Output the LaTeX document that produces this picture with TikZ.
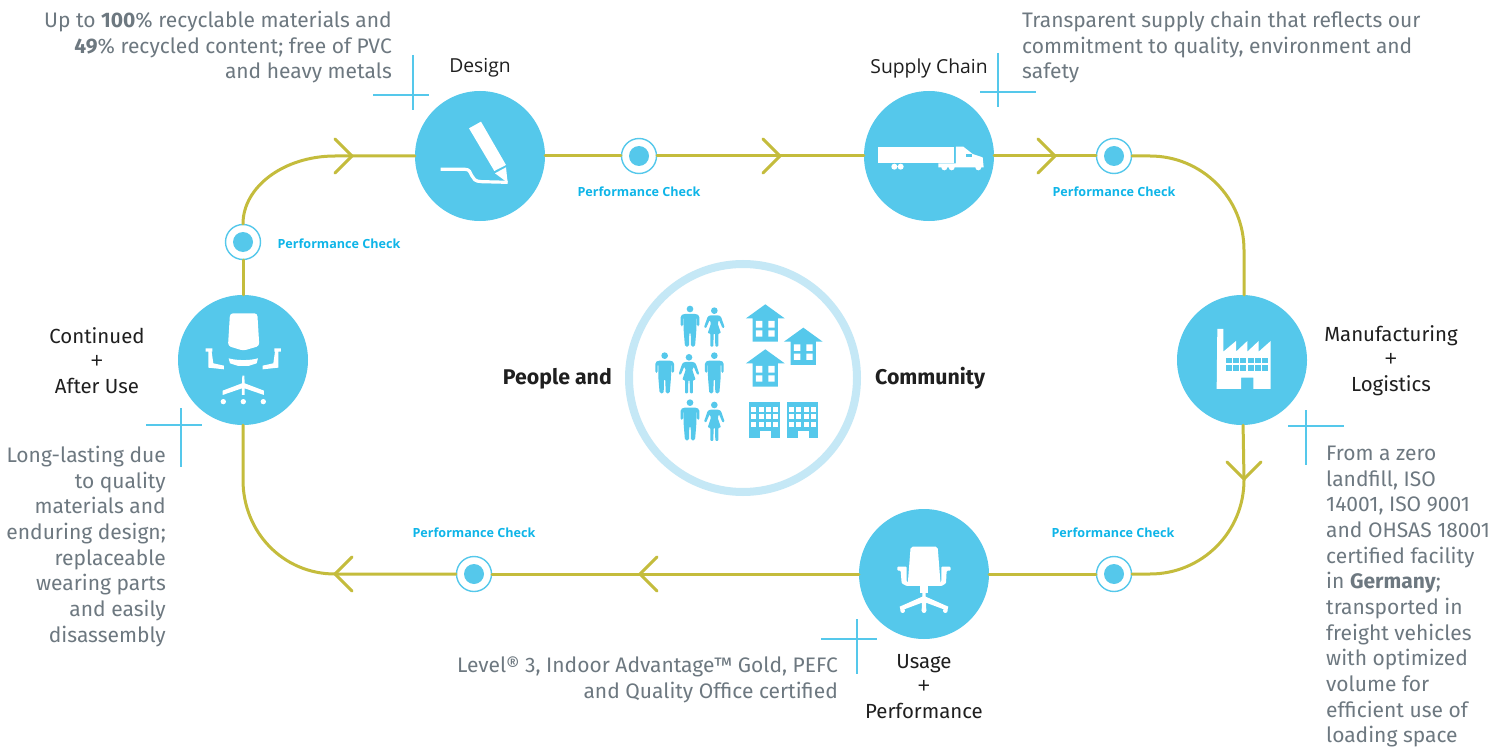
\documentclass[tikz,border=0pt]{standalone}
\usepackage{fontspec}
\setmainfont{Fira Sans}
\newfontfamily\labfont{Open Sans}
\newfontfamily\labfontb{Fira Sans}
\usetikzlibrary{calc}
\definecolor{hub}{HTML}{55C8EB}
\definecolor{track}{HTML}{C4BC3C}
\definecolor{halo}{HTML}{C5E8F6}
\definecolor{checkblue}{HTML}{0FB5E8}
\definecolor{graytext}{HTML}{6D7880}
\newcommand{\bigplus}{{\labfont\fontsize{22}{25}\selectfont +}}
\tikzset{
  hubnode/.style={circle,fill=hub,minimum size=130pt,inner sep=0pt},
  checknode/.style={circle,fill=white,draw=hub,line width=1.4pt,minimum size=35pt,inner sep=0pt,
     path picture={\fill[hub] (path picture bounding box.center) circle (10pt);}},
  trackline/.style={draw=track,line width=3pt,line cap=round,line join=miter},
  tick/.style={draw=hub,line width=1.3pt},
  checklabel/.style={font=\labfont\bfseries\fontsize{12.6}{15}\selectfont,text=checkblue,inner sep=0pt},
  blacklabel/.style={font=\labfont\fontsize{19.3}{25}\selectfont,text=black!88,inner sep=0pt,align=center},
  blacklabelb/.style={font=\labfontb\fontsize{20.4}{25}\selectfont,text=black!88,inner sep=0pt,align=center},
  boldlabel/.style={font=\labfontb\bfseries\fontsize{21.3}{25}\selectfont,text=black!88,inner sep=0pt},
  graybody/.style={font=\fontsize{21}{25.65}\selectfont,text=graytext,inner sep=0pt},
  man/.pic={
    \fill[hub] (0,10) circle (10);
    \fill[hub,rounded corners=1.5pt] (-28,62) -- (-28,30) -- (-20,25) -- (20,25) -- (28,30) -- (28,62) -- (21,62) -- (21,35) -- (19,35) -- (19,75) -- (15,123) -- (3,123) -- (2,80) -- (-2,80) -- (-3,123) -- (-15,123) -- (-19,75) -- (-19,35) -- (-21,35) -- (-21,62) -- cycle;
  },
  woman/.pic={
    \fill[hub] (0,10) circle (10);
    \fill[hub,rounded corners=1pt] (-13,24) -- (13,24) -- (20,28) -- (31,60) -- (25,63) -- (14,38) -- (10,48) -- (20,78) -- (12,78) -- (12,118) -- (3,118) -- (2,78) -- (-2,78) -- (-3,118) -- (-12,118) -- (-12,78) -- (-20,78) -- (-10,48) -- (-14,38) -- (-25,63) -- (-31,60) -- (-20,28) -- cycle;
  },
  house/.pic={
    \fill[hub] (0,0) -- (58,42) -- (38,42) -- (38,112) -- (-38,112) -- (-38,42) -- (-58,42) -- cycle;
    \fill[white] (-28,50) rectangle (-9,70) (9,50) rectangle (28,70) (-28,78) rectangle (-9,97) (9,78) rectangle (28,97);
  },
  tower/.pic={
    \fill[hub] (0,0) rectangle (93,108);
    \foreach \cx in {5,28,50,72} \foreach \cy in {15,38,60}
      \fill[white] (\cx,\cy) rectangle ++(15,15);
    \fill[white] (32,88) rectangle (65,108);
  }
}
\begin{document}
\begin{tikzpicture}[x=1pt,y=-1pt]
\useasboundingbox (0,0) rectangle (1505,749);
\fill[white] (0,0) rectangle (1505,749);

% hubs
\node[hubnode] (design) at (480,156) {};
\node[hubnode] (supply) at (929,156) {};
\node[hubnode] (manu) at (1242,360) {};
\node[hubnode] (usage) at (924,574) {};
\node[hubnode] (after) at (243,360) {};
% checks
\node[checknode] (chkA) at (639,156) {};
\node[checknode] (chkB) at (1114,156) {};
\node[checknode] (chkC) at (1114,574) {};
\node[checknode] (chkD) at (474,574) {};
\node[checknode] (chkE) at (243,242) {};
% track coordinates
\coordinate (trA) at (1150,156);
\coordinate (trB) at (1244,250);
\coordinate (trC) at (1244,480);
\coordinate (trD) at (1150,574);
\coordinate (trE) at (335,574);
\coordinate (trF) at (243,480);
\coordinate (trG) at (335,156);
\coordinate (chevA) at (352,156);
\coordinate (chevB) at (780,156);
\coordinate (chevC) at (1055,156);
\coordinate (chevD) at (1244,479);
\coordinate (chevE) at (640,574);
\coordinate (chevF) at (335,574);
% track
\draw[trackline] (design) -- (chkA);
\draw[trackline] (chkA) -- (supply);
\draw[trackline] (supply) -- (chkB);
\draw[trackline] (chkB) -- (trA) .. controls +(52,0) and +(0,-52) .. (trB) -- (1244,295);
\draw[trackline] (manu) -- (trC) .. controls +(0,52) and +(52,0) .. (trD) -- (chkC);
\draw[trackline] (chkC) -- (usage);
\draw[trackline] (usage) -- (chkD);
\draw[trackline] (chkD) -- (trE) .. controls +(-52,0) and +(0,52) .. (trF) -- (after);
\draw[trackline] (after) -- (chkE);
\draw[trackline] (chkE.north) .. controls +(0,-37) and +(-51,0) .. (trG) -- (design);
% chevrons
\draw[trackline] (chevA) ++(-17,-17) -- (chevA) -- ++(-17,17);
\draw[trackline] (chevB) ++(-17,-17) -- (chevB) -- ++(-17,17);
\draw[trackline] (chevC) ++(-17,-17) -- (chevC) -- ++(-17,17);
\draw[trackline] (chevD) ++(-17,-17) -- (chevD) -- ++(17,-17);
\draw[trackline] (chevE) ++(17,-17) -- (chevE) -- ++(17,17);
\draw[trackline] (chevF) ++(17,-17) -- (chevF) -- ++(17,17);

% crosses
\draw[tick] (373,95) -- (429,95) (413,55) -- (413,110);
\draw[tick] (980,92) -- (1036,92) (998,53) -- (998,107);
\draw[tick] (146,425) -- (202,425) (181,408) -- (181,467);
\draw[tick] (1288,426) -- (1344,426) (1306,410) -- (1306,465);
\draw[tick] (821,639) -- (877,639) (857,619) -- (857,674);

% centre ring
\node[circle,draw=halo,line width=8pt,minimum size=228pt,inner sep=0pt] (ring) at (743,378) {};

% pencil icon
\begin{scope}[shift={(400,40)},x=0.3333pt,y=-0.3333pt]
  \fill[white] (207,265) -- (243,245) -- (318,375) -- (283,393) -- cycle;
  \fill[white] (285,400) -- (318,382) -- (323,428) -- cycle;
  \draw[white,line width=3.2pt] (122,388) -- (195,388) .. controls (222,388) and (205,425) .. (245,425) -- (323,427);
\end{scope}
% truck icon
\begin{scope}[shift={(850,50)},x=0.3333pt,y=-0.3333pt]
  \fill[white] (85,290) rectangle (312,340);
  \fill[white] (318,290) -- (340,290) -- (368,312) -- (398,322) -- (401,352) -- (265,352) -- (265,340) -- (318,340) -- cycle;
  \fill[white] (133,350) circle (9) (152,350) circle (9) (283,352) circle (9) (305,352) circle (9) (385,352) circle (9);
  \fill[hub] (349,312) rectangle (365,322);
\end{scope}
% office chair icon (after use)
\begin{scope}[shift={(140,220)},x=0.3333pt,y=-0.3333pt]
  \fill[white,rounded corners=3pt] (270,280) -- (352,280) -- (358,378) -- (310,392) -- (264,378) -- cycle;
  \fill[white] (266,415) .. controls (290,422) and (330,422) .. (354,415) -- (350,430) -- (325,438) -- (295,438) -- (270,430) -- cycle;
  \fill[white] (197,385) -- (217,385) -- (217,395) -- (215,395) -- (220,430) -- (252,437) -- (252,448) -- (205,443) -- (205,395) -- (197,395) -- cycle;
  \fill[white] (423,385) -- (403,385) -- (403,395) -- (405,395) -- (400,430) -- (368,437) -- (368,448) -- (415,443) -- (415,395) -- (423,395) -- cycle;
  \fill[white] (307,467) -- (313,467) -- (314,490) -- (372,512) -- (372,525) -- (314,505) -- (314,525) -- (306,525) -- (306,505) -- (248,525) -- (248,512) -- (306,490) -- cycle;
  \fill[white] (250,545) circle (8) (310,545) circle (8) (370,545) circle (8);
\end{scope}
% factory icon
\begin{scope}[shift={(1160,280)},x=0.3333pt,y=-0.3333pt]
  \fill[white] (170,327) -- (172,147) -- (190,147) -- (190,215) -- (228,183) -- (228,215) -- (262,183) -- (262,215) -- (296,183) -- (296,215) -- (332,183) -- (332,327) -- (280,327) -- (280,293) -- (243,293) -- (243,327) -- cycle;
  \foreach \wx in {197,219,241,263,285,307} \foreach \wy in {233,256}
    \fill[hub] (\wx,\wy) rectangle ++(18,16);
\end{scope}
% task chair icon (usage)
\begin{scope}[shift={(810,500)},x=0.3333pt,y=-0.3333pt]
  \fill[white,rounded corners=2pt] (302,140) -- (383,140) -- (392,255) -- (293,255) -- cycle;
  \fill[white,rounded corners=1pt] (262,200) -- (290,200) -- (290,245) -- (300,250) -- (385,250) -- (394,245) -- (394,200) -- (422,200) -- (422,212) -- (410,212) -- (408,250) -- (395,258) -- (290,258) -- (275,250) -- (272,212) -- (262,212) -- cycle;
  \fill[white] (330,258) rectangle (355,278);
  \fill[white] (337,278) -- (347,278) -- (347,290) -- (415,320) -- (412,332) -- (348,308) -- (349,332) -- (335,332) -- (336,308) -- (272,332) -- (269,320) -- (337,290) -- cycle;
  \fill[white] (278,332) circle (7) (342,332) circle (7) (406,332) circle (7);
\end{scope}
% centre icons
\begin{scope}[shift={(620,255)},x=0.3333pt,y=-0.3333pt]
  \pic at (210,152) {man};
  \pic at (283,157) {woman};
  \pic at (134,292) {man};
  \pic at (207,297) {woman};
  \pic at (283,292) {man};
  \pic at (210,433) {man};
  \pic at (283,440) {woman};
  \pic at (436,148) {house};
  \pic at (550,218) {house};
  \pic at (436,283) {house};
  \pic at (388,440) {tower};
  \pic at (501,440) {tower};
\end{scope}

% black labels
\node[blacklabel] (lDesign) at (480,68) {Design};
\node[blacklabel] (lSupply) at (929,68) {Supply Chain};
\node[blacklabelb] (lAfter) at (97,360.5) {Continued\\\bigplus\\After Use};
\node[blacklabelb] (lManu) at (1391,360.5) {Manufacturing\\\bigplus\\Logistics};
\node[blacklabelb] (lUsage) at (924,687) {Usage\\\bigplus\\Performance};
\node[boldlabel,anchor=east] (lPeople) at (612,378.5) {People and};
\node[boldlabel,anchor=west] (lComm) at (875,378.5) {Community};

% performance labels
\node[checklabel] (pA) at (639,192) {Performance Check};
\node[checklabel] (pB) at (1114,192) {Performance Check};
\node[checklabel] (pC) at (1113,533) {Performance Check};
\node[checklabel] (pD) at (474,533) {Performance Check};
\node[checklabel] (pE) at (339,244) {Performance Check};

% body text
\node[graybody,align=right,anchor=north east] (tDesign) at (392,11) {Up to \textbf{100}\% recyclable materials and\\\textbf{49}\% recycled content; free of PVC\\and heavy metals};
\node[graybody,align=left,anchor=north west] (tSupply) at (1022,11) {Transparent supply chain that reflects our\\commitment to quality, environment and\\safety};
\node[graybody,align=right,anchor=north east] (tAfter) at (166,446) {Long-lasting due\\to quality\\materials and\\enduring design;\\replaceable\\wearing parts\\and easily\\disassembly};
\node[graybody,align=left,anchor=north west] (tManu) at (1326,446) {From a zero\\landfill, ISO\\14001, ISO 9001\\and OHSAS 18001\\certified facility\\in \textbf{Germany};\\transported in\\freight vehicles\\with optimized\\volume for\\efficient use of\\loading space};
\node[graybody,align=right,anchor=north east] (tUsage) at (838,657) {Level® 3, Indoor Advantage™ Gold, PEFC\\and Quality Office certified};
\end{tikzpicture}
\end{document}
